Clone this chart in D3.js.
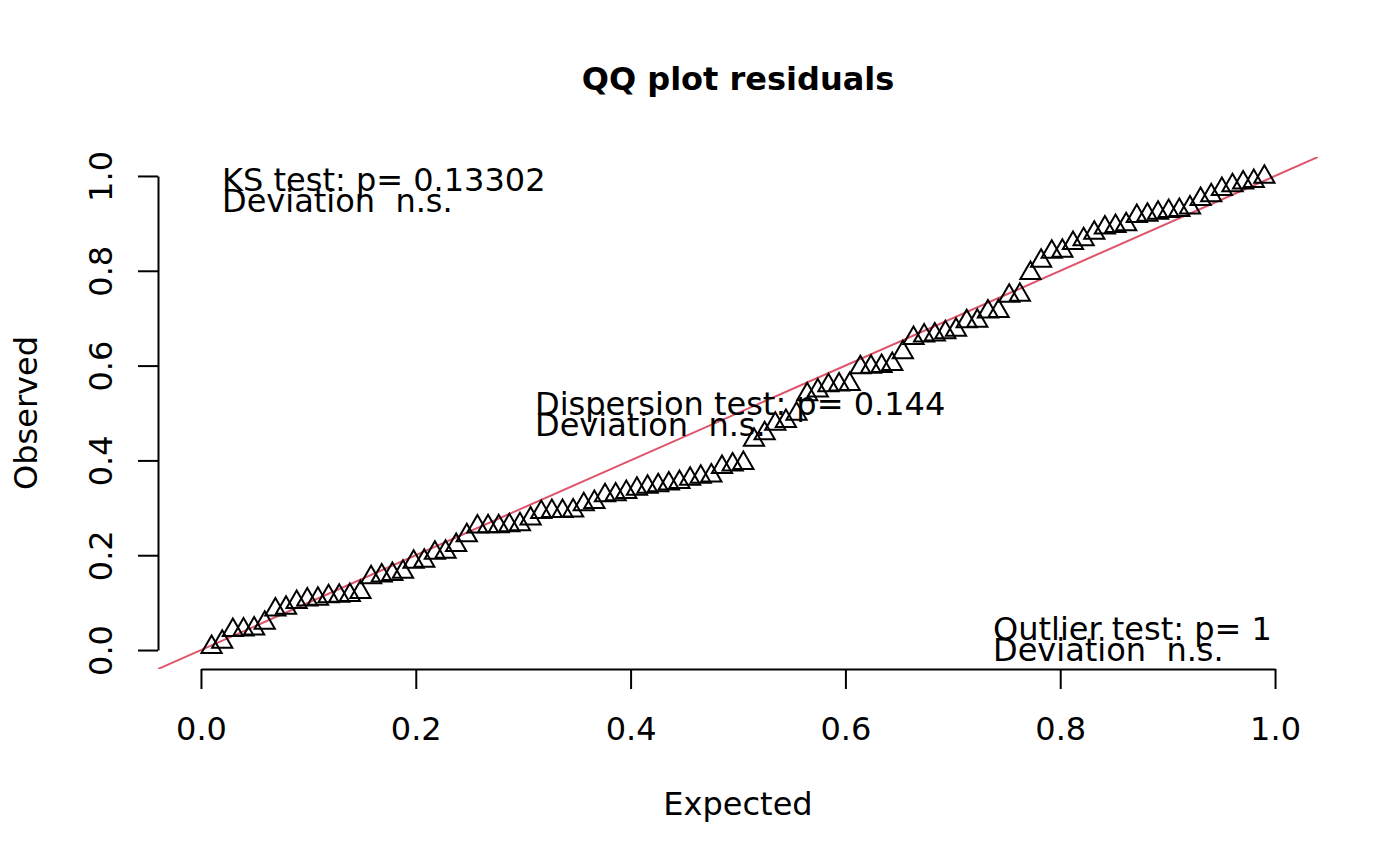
<!DOCTYPE html>
<html>
<head>
<meta charset="utf-8">
<script src="https://cdn.jsdelivr.net/npm/d3@7"></script>
<style>
  body { margin: 0; background: #fff; }
  text { font-family: "DejaVu Sans", sans-serif; font-size: 32px; fill: #000; white-space: pre; }
</style>
</head>
<body>
<script>
// QQ plot of scaled residuals against uniform expectation

// expected quantiles (one per residual)
var expected = [
  0.0099, 0.0198, 0.0297, 0.0396, 0.0495, 0.0594, 0.0693, 0.0792, 0.0891, 0.0990,
  0.1089, 0.1188, 0.1287, 0.1386, 0.1485, 0.1584, 0.1683, 0.1782, 0.1881, 0.1980,
  0.2079, 0.2178, 0.2277, 0.2376, 0.2475, 0.2574, 0.2673, 0.2772, 0.2871, 0.2970,
  0.3069, 0.3168, 0.3267, 0.3366, 0.3465, 0.3564, 0.3663, 0.3762, 0.3861, 0.3960,
  0.4059, 0.4158, 0.4257, 0.4356, 0.4455, 0.4554, 0.4653, 0.4752, 0.4851, 0.4950,
  0.5050, 0.5149, 0.5248, 0.5347, 0.5446, 0.5545, 0.5644, 0.5743, 0.5842, 0.5941,
  0.6040, 0.6139, 0.6238, 0.6337, 0.6436, 0.6535, 0.6634, 0.6733, 0.6832, 0.6931,
  0.7030, 0.7129, 0.7228, 0.7327, 0.7426, 0.7525, 0.7624, 0.7723, 0.7822, 0.7921,
  0.8020, 0.8119, 0.8218, 0.8317, 0.8416, 0.8515, 0.8614, 0.8713, 0.8812, 0.8911,
  0.9010, 0.9109, 0.9208, 0.9307, 0.9406, 0.9505, 0.9604, 0.9703, 0.9802, 0.9901
];

// observed sorted residuals
var observed = [
  0.006, 0.017, 0.042, 0.043, 0.045, 0.057, 0.085, 0.089, 0.101, 0.106,
  0.108, 0.113, 0.114, 0.116, 0.122, 0.153, 0.157, 0.160, 0.165, 0.186,
  0.188, 0.205, 0.207, 0.221, 0.242, 0.260, 0.261, 0.261, 0.263, 0.265,
  0.277, 0.291, 0.293, 0.293, 0.294, 0.307, 0.312, 0.326, 0.328, 0.333,
  0.340, 0.344, 0.347, 0.351, 0.354, 0.361, 0.365, 0.368, 0.386, 0.391,
  0.394, 0.443, 0.457, 0.477, 0.483, 0.498, 0.539, 0.547, 0.558, 0.560,
  0.561, 0.596, 0.597, 0.599, 0.603, 0.628, 0.658, 0.663, 0.665, 0.670,
  0.675, 0.693, 0.694, 0.714, 0.715, 0.747, 0.749, 0.795, 0.821, 0.840,
  0.842, 0.858, 0.866, 0.880, 0.891, 0.894, 0.898, 0.915, 0.918, 0.922,
  0.926, 0.928, 0.933, 0.951, 0.959, 0.972, 0.980, 0.986, 0.989, 0.998
];

var xTicks = [0, 0.2, 0.4, 0.6, 0.8, 1.0];
var xTickLabels = ["0.0", "0.2", "0.4", "0.6", "0.8", "1.0"];
var yTicks = [0, 0.2, 0.4, 0.6, 0.8, 1.0];
var yTickLabels = ["0.0", "0.2", "0.4", "0.6", "0.8", "1.0"];

// test results written in the plot
var ksLines = ["KS test: p= 0.13302", "Deviation  n.s."];
var dispLines = ["Dispersion test: p= 0.144", "Deviation  n.s."];
var outLines = ["Outlier test: p= 1", "Deviation  n.s."];

var W = 1400, H = 866;
var plot = { left: 158, right: 1318, top: 157, bottom: 669 };

var svg = d3.select("body").append("svg")
    .attr("width", W)
    .attr("height", H);

// R style: limits 0..1 padded by 4%
var x = d3.scaleLinear().domain([-0.04, 1.04]).range([plot.left, plot.right]);
var y = d3.scaleLinear().domain([-0.04, 1.04]).range([plot.bottom, plot.top]);

// axis lines only span the tick range, like base graphics
var xAxisScale = x.copy().domain([0, 1]).range([x(0), x(1)]);
var yAxisScale = y.copy().domain([0, 1]).range([y(0), y(1)]);

var xAxis = svg.append("g")
    .attr("transform", "translate(0," + plot.bottom + ")")
    .call(d3.axisBottom(xAxisScale)
        .tickValues(xTicks)
        .tickFormat(function(d, i) { return xTickLabels[i]; })
        .tickSize(20)
        .tickSizeOuter(0)
        .tickPadding(0));

xAxis.selectAll("path, line").attr("stroke", "#000").attr("stroke-width", 2);
xAxis.selectAll("text")
    .attr("font-size", null)
    .attr("font-family", null)
    .attr("y", 71)
    .attr("dy", 0);

var yAxis = svg.append("g")
    .attr("transform", "translate(" + plot.left + ",0)")
    .call(d3.axisLeft(yAxisScale)
        .tickValues(yTicks)
        .tickFormat(function(d, i) { return yTickLabels[i]; })
        .tickSize(20)
        .tickSizeOuter(0)
        .tickPadding(0));

yAxis.selectAll("path, line").attr("stroke", "#000").attr("stroke-width", 2);
yAxis.selectAll("text")
    .attr("font-size", null)
    .attr("font-family", null)
    .attr("transform", "rotate(-90)")
    .attr("text-anchor", "middle")
    .attr("x", 0)
    .attr("y", -46)
    .attr("dy", 0);

// 1:1 reference line, clipped to the plot region
svg.append("clipPath").attr("id", "plotclip")
    .append("rect")
    .attr("x", plot.left).attr("y", plot.top)
    .attr("width", plot.right - plot.left)
    .attr("height", plot.bottom - plot.top);

svg.append("line")
    .attr("clip-path", "url(#plotclip)")
    .attr("x1", x(-0.04)).attr("y1", y(-0.04))
    .attr("x2", x(1.04)).attr("y2", y(1.04))
    .attr("stroke", "#DF536B")
    .attr("stroke-width", 2);

// open triangles (pch = 2), centroid on the data point
var rad = 7.5;
var tri = [[0, -1.5551 * rad], [1.3468 * rad, 0.7776 * rad], [-1.3468 * rad, 0.7776 * rad]];
var triPath = "M" + tri.map(function(p) { return p.join(","); }).join("L") + "Z";

svg.append("g").selectAll("path")
    .data(observed)
    .enter()
    .append("path")
    .attr("d", triPath)
    .attr("transform", function(d, i) {
        return "translate(" + x(expected[i]) + "," + y(d) + ")"; })
    .attr("fill", "none")
    .attr("stroke", "#000")
    .attr("stroke-width", 2);

// text blocks
function addLines(lines, px, py) {
    svg.append("g").selectAll("text")
        .data(lines)
        .enter()
        .append("text")
        .attr("x", px)
        .attr("y", function(d, i) { return py + i * 21; })
        .text(function(d) { return d; });
}

addLines(ksLines, 222, 191);
addLines(dispLines, 535, 415);
addLines(outLines, 993, 640);

// title and axis labels
svg.append("text")
    .attr("x", (plot.left + plot.right) / 2)
    .attr("y", 90)
    .attr("text-anchor", "middle")
    .attr("font-weight", "bold")
    .text("QQ plot residuals");

svg.append("text")
    .attr("x", (plot.left + plot.right) / 2)
    .attr("y", 815)
    .attr("text-anchor", "middle")
    .text("Expected");

svg.append("text")
    .attr("transform", "translate(37," + (plot.top + plot.bottom) / 2 + ") rotate(-90)")
    .attr("text-anchor", "middle")
    .text("Observed");
</script>
</body>
</html>
